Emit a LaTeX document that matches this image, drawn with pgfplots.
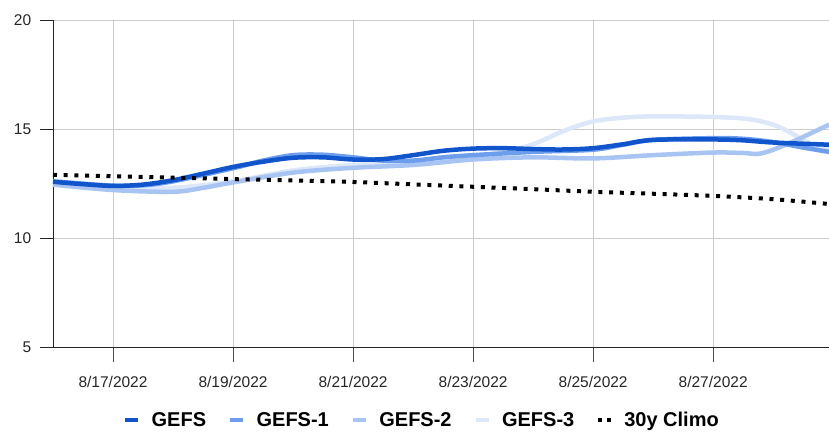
\documentclass[border=0pt]{standalone}
\usepackage{pgfplots}
\pgfplotsset{compat=1.18}
\usepackage{fontspec}
\setmainfont{Liberation Sans}
\definecolor{gefs}{HTML}{1155CC}
\definecolor{gefsa}{HTML}{6D9EEB}
\definecolor{gefsb}{HTML}{A8C4F2}
\definecolor{gefsc}{HTML}{DCE7FA}
\definecolor{gridc}{HTML}{CCCCCC}
\begin{document}
\begin{tikzpicture}
\begin{axis}[
  at={(0,0)}, anchor=south west,
  scale only axis, width=776pt, height=327pt,
  xmin=16, xmax=28.93, ymin=5, ymax=20,
  axis lines=left, axis line style={-, black!85, line width=0.9pt},
  xtick={17,19,21,23,25,27},
  xticklabels={8/17/2022,8/19/2022,8/21/2022,8/23/2022,8/25/2022,8/27/2022},
  ytick={5,10,15,20},
  grid=major, major grid style={gridc, line width=0.8pt},
  tick align=outside,
  x tick style={black!70, line width=0.8pt},
  y tick style={black!85, line width=0.8pt},
  xtick style={/pgfplots/major tick length=15pt},
  ytick style={/pgfplots/major tick length=13pt},
  /pgf/number format/assume math mode=true,
  tick label style={font=\fontsize{15.5}{18}\selectfont, text=black!85},
  yticklabel style={xshift=-14pt},
  xticklabel style={yshift=-21pt},
  clip=true,
  legend columns=5,
  legend style={at={(0.4755,-0.223)}, anchor=center, draw=none, fill=none,
    font=\fontsize{20}{23}\selectfont\bfseries,
    /tikz/every odd column/.append style={column sep=9pt},
    /tikz/every even column/.append style={column sep=20pt}},
  legend cell align=left,
]
% draw order: lightest first
\addplot[forget plot, gefsc, line width=4.5pt, smooth, tension=0.55] coordinates {
(16,12.55) (17,12.3) (18,12.3) (19,12.6) (20,13.1) (21,13.35) (22,13.45) (23,13.75)
(23.5,13.95) (24,14.3) (24.5,14.9) (25,15.35) (25.5,15.52) (26,15.58) (27,15.55)
(27.6,15.45) (28.0,15.2) (28.27,14.86) (28.6,14.35) (28.93,14.05)};
\addplot[forget plot, gefsb, line width=4.5pt, smooth, tension=0.55] coordinates {
(16,12.45) (17,12.2) (18,12.12) (18.5,12.3) (19,12.55) (20,13.0) (21,13.22) (22,13.35)
(23,13.6) (24,13.7) (25,13.65) (26,13.8) (27,13.92) (27.5,13.9) (27.8,13.88)
(28.27,14.35) (28.93,15.2)};
\addplot[forget plot, gefsa, line width=4.5pt, smooth, tension=0.55] coordinates {
(16,12.6) (17,12.4) (17.5,12.42) (18,12.6) (19,13.2) (19.5,13.55) (20,13.8) (20.5,13.82)
(21,13.7) (21.5,13.55) (22,13.55) (22.5,13.7) (23,13.8) (24,13.95) (25,14.05)
(25.5,14.28) (26,14.5) (27,14.58) (27.5,14.55) (28,14.4) (28.5,14.15) (28.93,13.95)};
\addplot[forget plot, gefs, line width=4.5pt, smooth, tension=0.55] coordinates {
(16,12.58) (16.5,12.47) (17,12.39) (17.5,12.45) (18,12.65) (18.5,12.95) (19,13.26)
(19.5,13.5) (20,13.68) (20.5,13.7) (21,13.6) (21.5,13.62) (22,13.8) (22.5,14.0)
(23,14.1) (23.5,14.12) (24,14.08) (24.5,14.06) (25,14.12) (25.5,14.3) (26,14.5)
(27,14.52) (27.5,14.48) (28,14.38) (28.93,14.28)};
\addplot[forget plot, black, line width=4pt, dash pattern=on 4pt off 6.7pt, smooth] coordinates {
(16,12.9) (17,12.83) (18,12.77) (19,12.7) (20,12.64) (21,12.57) (22,12.46) (23,12.35)
(24,12.24) (25,12.12) (26,12.03) (27,11.93) (28,11.78) (28.93,11.56)};
\addlegendimage{gefs, line width=4.5pt, legend image code/.code={\draw (0pt,0pt)--(13pt,0pt);}}
\addlegendentry{GEFS}
\addlegendimage{gefsa, line width=4.5pt, legend image code/.code={\draw (0pt,0pt)--(13pt,0pt);}}
\addlegendentry{GEFS-1}
\addlegendimage{gefsb, line width=4.5pt, legend image code/.code={\draw (0pt,0pt)--(13pt,0pt);}}
\addlegendentry{GEFS-2}
\addlegendimage{gefsc, line width=4.5pt, legend image code/.code={\draw (0pt,0pt)--(13pt,0pt);}}
\addlegendentry{GEFS-3}
\addlegendimage{black, line width=4pt, dash pattern=on 4pt off 5pt, legend image code/.code={\draw (0pt,0pt)--(13pt,0pt);}}
\addlegendentry{30y Climo}
\end{axis}
\pgfresetboundingbox
\useasboundingbox (-53pt,-84pt) rectangle (776pt,347pt);
\end{tikzpicture}
\end{document}
